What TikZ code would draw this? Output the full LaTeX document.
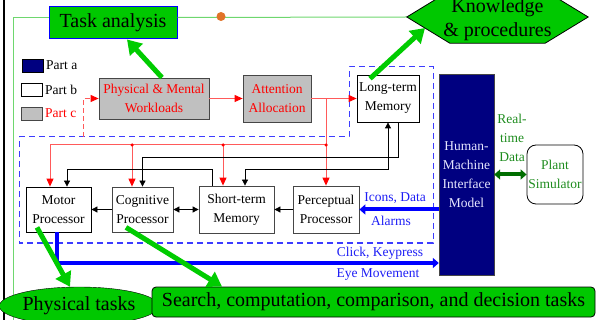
\documentclass[tikz,border=0pt]{standalone}
\usepackage{fontspec}
\setmainfont{Liberation Serif}
\usetikzlibrary{arrows.meta,calc,shapes.geometric}

\definecolor{boxgreen}{RGB}{0,200,0}
\definecolor{arrowgreen}{RGB}{0,204,0}
\definecolor{navyblue}{RGB}{0,0,128}
\definecolor{partgrey}{RGB}{192,192,192}
\definecolor{linkred}{RGB}{255,90,90}
\definecolor{dashblue}{RGB}{60,60,255}
\definecolor{datagreen}{RGB}{30,140,30}
\definecolor{darkarrow}{RGB}{0,110,0}
\definecolor{framegreen}{RGB}{110,215,110}
\definecolor{dotorange}{RGB}{225,115,40}
\definecolor{edgegrey}{RGB}{70,70,70}
\definecolor{textblue}{RGB}{30,30,245}
\definecolor{hmitext}{RGB}{230,230,255}

\begin{document}
\begin{tikzpicture}[x=1pt,y=-1pt,
  smallfont/.style={font=\fontsize{13.5}{19}\selectfont},
  bigfont/.style={font=\fontsize{20}{24}\selectfont},
  partbbox/.style={draw=black, fill=white, smallfont, align=center, inner sep=0pt, line width=0.8pt},
  partcbox/.style={draw=edgegrey, fill=partgrey, text=red, smallfont, align=center, inner sep=0pt, line width=0.8pt},
  greenbox/.style={fill=boxgreen, bigfont, align=center, inner sep=0pt},
  keybox/.style={minimum width=21pt, minimum height=13pt, inner sep=0pt, line width=0.8pt},
  keytext/.style={anchor=west, inner sep=0pt, smallfont},
  blk/.style={draw=black, line width=0.8pt},
  blktip/.style={-{Triangle[length=6pt,width=6pt]}},
  blkboth/.style={{Triangle[length=6pt,width=6pt]}-{Triangle[length=6pt,width=6pt]}},
  redline/.style={draw=linkred, line width=1pt},
  redtip/.style={-{Triangle[length=8pt,width=7pt,color=red]}},
  bluearrow/.style={draw=blue, line width=4pt, -{Triangle[length=6pt,width=10pt]}},
  bigarrow/.style={draw=arrowgreen, line width=5pt, -{Triangle[length=14pt,width=17pt]}},
  junction/.style={circle, fill=red, minimum size=3.5pt, inner sep=0pt},
  dashbox/.style={draw=dashblue, line width=1pt, dash pattern=on 6pt off 4pt},
  frameline/.style={draw=framegreen, line width=1pt}
]
\useasboundingbox (0,0) rectangle (599,320);

% page rule and green frame
\draw[line width=2pt] (4,0) -- (4,320);
\coordinate (frametop) at (13,17.5);
\coordinate (framebot) at (13,320);

% top row: task analysis and knowledge
\node[greenbox, draw=blue, line width=1pt, minimum width=128pt, minimum height=32pt] (task) at (113,23) {Task analysis};
\node[minimum width=181pt, minimum height=52pt, inner sep=0pt] (know) at (497.5,17) {};
\draw[frameline] (framebot) -- (frametop) -- (frametop -| task.west);
\draw[frameline] (frametop -| task.east) -- (know.west);
\node[circle, fill=dotorange, minimum size=9pt, inner sep=0pt] (dot) at (221,16.5) {};
\filldraw[fill=boxgreen, draw=black, line width=0.8pt]
  (know.west) -- ([xshift=43pt]know.north west) -- ([xshift=-43pt]know.north east)
  -- (know.east) -- ([xshift=-43pt]know.south east) -- ([xshift=43pt]know.south west) -- cycle;
\node[bigfont, align=center, inner sep=0pt] (knowtext) at (497.5,20) {Knowledge\\\& procedures};

% legend
\node[keybox, draw=black, fill=navyblue] (keya) at (32.5,65.5) {};
\node[keytext] (keyatext) at (46,65.5) {Part a};
\node[keybox, draw=black, fill=white] (keyb) at (31.5,89.5) {};
\node[keytext] (keybtext) at (45,89.5) {Part b};
\node[keybox, draw=edgegrey, fill=partgrey] (keyc) at (31.5,113.5) {};
\node[keytext, text=red] (keyctext) at (45,113.5) {Part c};

% upper boxes
\node[partcbox, minimum width=110pt, minimum height=41pt] (pmw) at (154,98.5) {Physical \& Mental\\Workloads};
\node[partcbox, minimum width=68pt, minimum height=47pt] (att) at (277,98.5) {Attention\\Allocation};
\node[partbbox, minimum width=62pt, minimum height=47pt] (ltm) at (388,98.5) {Long-term\\Memory};

% cognitive model outline
\draw[dashbox] (19,137) -- (349,137) -- (349,67) -- (433,67) -- (433,243) -- (19,243) -- cycle;

% lower boxes
\node[partbbox, minimum width=65pt, minimum height=45pt] (motor) at (58.5,209.5) {Motor\\Processor};
\node[partbbox, draw=edgegrey, minimum width=61pt, minimum height=45pt] (cog) at (142.5,209.5) {Cognitive\\Processor};
\node[partbbox, draw=edgegrey, minimum width=75pt, minimum height=47pt] (stm) at (236.5,209.5) {Short-term\\Memory};
\node[partbbox, draw=edgegrey, minimum width=66pt, minimum height=47pt] (perc) at (326,209.5) {Perceptual\\Processor};

% interface and plant
\node[fill=navyblue, draw=edgegrey, text=hmitext, smallfont, align=center, inner sep=0pt,
      minimum width=55pt, minimum height=201pt] (hmi) at (466.5,174.5) {Human-\\Machine\\Interface\\Model};
\node[draw=black, rounded corners=9pt, text=datagreen, smallfont, align=center, inner sep=0pt,
      minimum width=56pt, minimum height=59pt, line width=0.8pt] (plant) at (555,174.5) {Plant\\Simulator};
\node[text=datagreen, smallfont, align=center, inner sep=0pt] (rtdata) at (512,138) {Real-\\time\\Data};
\draw[draw=darkarrow, line width=4pt, {Triangle[length=6pt,width=10pt]}-{Triangle[length=6pt,width=10pt]}]
  (hmi.east |- plant.west) -- (plant.west);

% outcome tasks
\node[ellipse, draw=black, fill=boxgreen, bigfont, inner sep=0pt, minimum width=122pt, minimum height=38pt] (phys) at (79,306) {Physical tasks};
\node[greenbox, draw=black, rounded corners=4pt, minimum width=443pt, minimum height=30pt, line width=0.8pt] (search) at (373.5,302) {Search, computation, comparison, and decision tasks};

% workload chain
\coordinate (cin) at (83,137);
\draw[redline, dash pattern=on 5pt off 3pt, redtip] (cin) |- (pmw.west);
\draw[redline, redtip] (pmw.east) -- (att.west);
\draw[redline, redtip] (att.east) -- (ltm.west);

% attention bus to the processors
\coordinate (redbus) at (326,145);
\coordinate (motred) at ([xshift=-8.5pt]motor.north);
\coordinate (cogred) at ([xshift=-10.5pt]cog.north);
\coordinate (stmred) at ([xshift=-13.5pt]stm.north);
\draw[redline] (att.east -| redbus) -- (redbus);
\draw[redline, redtip] (redbus) -| (motred);
\draw[redline, redtip] (redbus) -- (perc.north);
\draw[redline, redtip] (cogred |- redbus) -- (cogred);
\draw[redline, redtip] (stmred |- redbus) -- (stmred);
\node[junction] (j1) at (cogred |- redbus) {};
\node[junction] (j2) at (stmred |- redbus) {};
\node[junction] (j3) at (redbus) {};

% memory links
\coordinate (rowa) at (0,169);
\coordinate (rowb) at (0,157);
\coordinate (stmout) at ([xshift=-24.5pt]stm.north);
\coordinate (stmio) at ([xshift=8.5pt]stm.north);
\coordinate (motin) at ([xshift=8.5pt]motor.north);
\coordinate (ltmout) at ([xshift=10pt]ltm.south);
\draw[blk, blktip] (stmout) -- (stmout |- rowa) -| (motin);
\draw[blk, blktip] (ltmout) -- (ltmout |- rowb) -| (cog.north);
\draw[blk, blkboth] (stmio) -- (stmio |- rowa) -| (ltm.south);

% processor chain
\draw[blk, blktip] (cog.west) -- (motor.east);
\draw[blk, blkboth] (stm.west) -- (cog.east);
\draw[blk, blktip] (perc.west) -- (stm.east);

% interface traffic
\draw[bluearrow] (hmi.west |- perc.east) -- (perc.east);
\node[text=textblue, smallfont, inner sep=0pt] (icons) at (395,198) {Icons, Data};
\node[text=textblue, smallfont, inner sep=0pt] (alarms) at (391,221) {Alarms};
\coordinate (clickrow) at (0,263);
\coordinate (motout) at ([xshift=-1.5pt]motor.south);
\draw[bluearrow] (motout) |- (hmi.west |- clickrow);
\node[text=textblue, smallfont, inner sep=0pt] (click) at (380,253) {Click, Keypress};
\node[text=textblue, smallfont, inner sep=0pt] (eye) at (378,275) {Eye Movement};

% outputs of the model
\draw[bigarrow] ([xshift=8pt]pmw.north) -- ([xshift=14pt]task.south);
\draw[bigarrow] ([xshift=-18pt,yshift=-4pt]ltm.north) -- (425,28);
\draw[bigarrow] ([xshift=-21.5pt,yshift=5pt]motor.south) -- ([xshift=-9pt]phys.north);
\draw[bigarrow] ([xshift=-16.5pt,yshift=5pt]cog.south) -- ([xshift=-151.5pt]search.north);
\end{tikzpicture}
\end{document}
